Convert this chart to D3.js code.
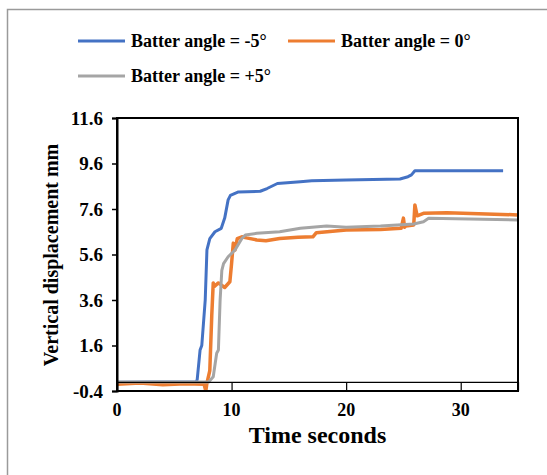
<!DOCTYPE html>
<html lang="en">
<head>
<meta charset="utf-8">
<title>Vertical displacement vs time</title>
<script src="https://d3js.org/d3.v7.min.js"></script>
<style>
    body { margin: 0; background: #fff; }
    svg { display: block; font-family: "Liberation Serif", "Times New Roman", serif; font-weight: bold; }
</style>
</head>
<body>
<svg id="chart" width="547" height="475"></svg>
<script>
// data
const seriesNames = ["Batter angle = -5\u00B0", "Batter angle = 0\u00B0", "Batter angle = +5\u00B0"];
const seriesColors = ["#4472C4", "#ED7D31", "#A5A5A5"];

const blueT = [0, 3, 6.9, 7.0, 7.25, 7.4, 7.7, 7.85, 8.1, 8.55, 9.1, 9.4, 9.7, 9.9, 10.6, 12.5, 13.1, 14.0, 16.0, 17.0, 20.0, 24.7, 25.4, 25.7, 26.0, 33.7];
const blueV = [-0.02, 0, 0.0, 0.1, 1.4, 1.6, 3.6, 5.8, 6.3, 6.6, 6.75, 7.2, 8.0, 8.2, 8.35, 8.38, 8.5, 8.72, 8.8, 8.84, 8.87, 8.92, 9.02, 9.1, 9.28, 9.28];

const orangeT = [0, 2, 4, 6, 7.6, 7.75, 7.85, 8.1, 8.27, 8.4, 8.5, 8.85, 9.4, 9.85, 10.0, 10.15, 10.3, 10.5, 10.9, 11.3, 12.2, 13.0, 14.2, 15.8, 17.1, 17.4, 20.0, 23.0, 24.8, 25.0, 25.1, 25.2, 25.9, 26.0, 26.2, 26.75, 28.8, 35];
const orangeV = [-0.1, -0.05, -0.12, -0.08, -0.1, -0.4, -0.05, 0.5, 2.9, 4.35, 4.2, 4.35, 4.15, 4.4, 5.2, 6.1, 5.8, 6.3, 6.38, 6.33, 6.24, 6.2, 6.3, 6.36, 6.38, 6.56, 6.68, 6.7, 6.75, 7.2, 6.8, 6.85, 6.9, 7.78, 7.3, 7.41, 7.44, 7.34];

const grayT = [0, 8.0, 8.4, 8.7, 8.85, 9.0, 9.15, 9.3, 9.7, 10.3, 10.9, 11.2, 12.2, 14.2, 16.0, 18.3, 20.0, 23.0, 25.9, 26.75, 27.2, 35];
const grayV = [0, 0, 0.23, 1.26, 1.4, 3.6, 4.9, 5.2, 5.5, 5.8, 6.3, 6.46, 6.53, 6.6, 6.75, 6.85, 6.8, 6.85, 6.94, 7.04, 7.19, 7.12];

const xTicks = [0, 10, 20, 30];
const yTicks = [-0.4, 1.6, 3.6, 5.6, 7.6, 9.6, 11.6];

const series = [
    { name: seriesNames[0], color: seriesColors[0], t: blueT, v: blueV, w: 3 },
    { name: seriesNames[1], color: seriesColors[1], t: orangeT, v: orangeV, w: 3.5 },
    { name: seriesNames[2], color: seriesColors[2], t: grayT, v: grayV, w: 3 }
];

const svg = d3.select("#chart");

// outer frame (top and left only visible)
svg.append("path")
    .attr("d", "M7.5,475 V9.5 H547")
    .attr("fill", "none")
    .attr("stroke", "#9a9a9a")
    .attr("stroke-width", 1.5);

// plot box
const plot = { left: 117, right: 518, top: 118, bottom: 391 };

const x = d3.scaleLinear().domain([0, 35]).range([plot.left, plot.right]);
const y = d3.scaleLinear().domain([-0.4, 11.6]).range([plot.bottom, plot.top]);

// lines
svg.append("clipPath").attr("id", "clip")
    .append("rect")
    .attr("x", plot.left).attr("y", plot.top)
    .attr("width", plot.right - plot.left).attr("height", plot.bottom - plot.top);

const line = d3.line().x(d => x(d[0])).y(d => y(d[1]));

svg.append("g").attr("clip-path", "url(#clip)")
    .selectAll("path")
    .data(series)
    .join("path")
    .attr("d", s => line(s.t.map((t, i) => [t, s.v[i]])))
    .attr("fill", "none")
    .attr("stroke", s => s.color)
    .attr("stroke-width", s => s.w)
    .attr("stroke-linejoin", "round");

// x axis line at y = 0 with ticks down to the box
const xAxis = svg.append("g").attr("transform", `translate(0,${y(0)})`)
    .call(d3.axisBottom(x).tickValues(xTicks).tickSize(y(-0.4) - y(0)).tickFormat(""));
xAxis.select(".domain").attr("stroke", "#000").attr("stroke-width", 1.2);
xAxis.selectAll(".tick line").attr("stroke", "#000").attr("stroke-width", 1.2);

// x tick labels under the box
svg.append("g").selectAll("text")
    .data(xTicks)
    .join("text")
    .attr("x", d => x(d))
    .attr("y", plot.bottom + 25)
    .attr("text-anchor", "middle")
    .attr("font-size", 18)
    .text(d => d);

// box border
svg.append("rect")
    .attr("x", plot.left).attr("y", plot.top)
    .attr("width", plot.right - plot.left).attr("height", plot.bottom - plot.top)
    .attr("fill", "none")
    .attr("stroke", "#000")
    .attr("stroke-width", 2);

// y axis
const yAxis = svg.append("g").attr("transform", `translate(${plot.left},0)`)
    .call(d3.axisLeft(y).tickValues(yTicks).tickSize(5).tickPadding(9)
        .tickFormat(d => d.toFixed(1)));
yAxis.select(".domain").attr("stroke", "#000").attr("stroke-width", 2);
yAxis.selectAll(".tick line").attr("stroke", "#000").attr("stroke-width", 1.5);
yAxis.selectAll(".tick text")
    .attr("fill", "#000")
    .attr("font-size", 19)
    .attr("font-family", "Liberation Serif, serif")
    .attr("font-weight", "bold");

// axis titles
svg.append("text")
    .attr("x", (plot.left + plot.right) / 2)
    .attr("y", 443)
    .attr("text-anchor", "middle")
    .attr("font-size", 24)
    .text("Time seconds");

svg.append("text")
    .attr("transform", `translate(58,255) rotate(-90)`)
    .attr("text-anchor", "middle")
    .attr("font-size", 20)
    .text("Vertical displacement mm");

// legend
const legendPos = [[78, 41], [288, 41], [78, 76]];
const legend = svg.append("g").selectAll("g")
    .data(series)
    .join("g")
    .attr("transform", (d, i) => `translate(${legendPos[i][0]},${legendPos[i][1]})`);
legend.append("line")
    .attr("x1", 0).attr("x2", 47)
    .attr("stroke", d => d.color)
    .attr("stroke-width", 3);
legend.append("text")
    .attr("x", 53)
    .attr("y", 6)
    .attr("font-size", 18)
    .text(d => d.name);
</script>
</body>
</html>
